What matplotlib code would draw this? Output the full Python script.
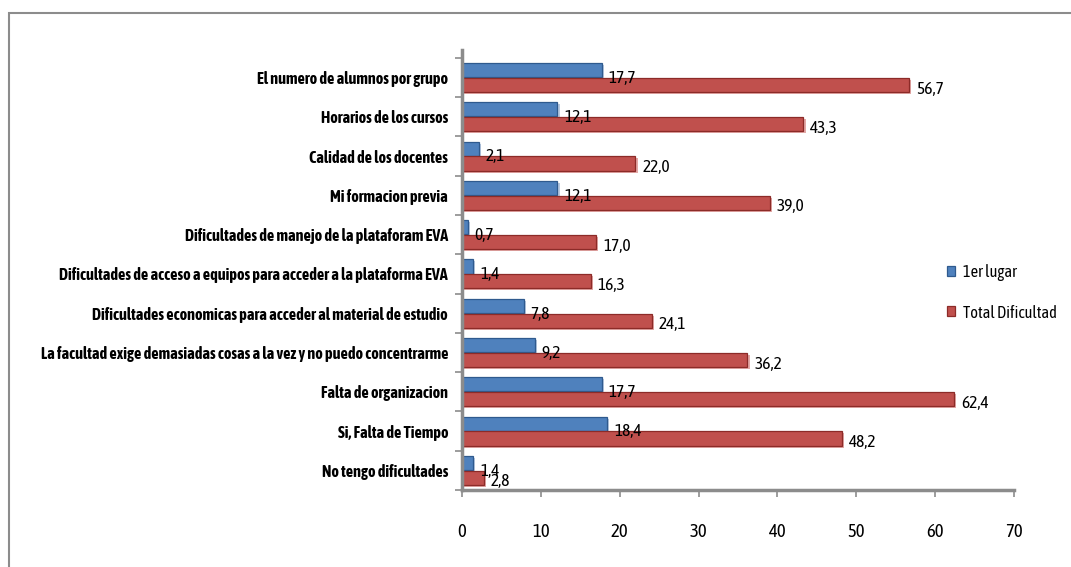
import matplotlib.pyplot as plt
import numpy as np
from matplotlib import font_manager
import matplotlib.patheffects as pe
from matplotlib.patches import Rectangle

# buscar una fuente estrecha si existe (el original usa Calibri)
cands = {}
for f in font_manager.fontManager.ttflist:
    if "Narrow" in f.name or "Condensed" in f.name:
        w = f.weight if isinstance(f.weight, int) else 700 if "bold" in str(f.weight) else 400
        cands[f.name] = max(cands.get(f.name, 0), w)
narrow = None
has_bold = False
for name, w in sorted(cands.items(), key=lambda kv: -kv[1]):
    narrow = name
    has_bold = w >= 600
    break
fam = [narrow, "Liberation Sans", "DejaVu Sans"] if narrow else ["Liberation Sans", "DejaVu Sans"]
plt.rcParams['font.family'] = fam

categorias = [
    "El numero de alumnos por grupo",
    "Horarios de los cursos",
    "Calidad de los docentes",
    "Mi formacion previa",
    "Dificultades de manejo de la plataforam EVA",
    "Dificultades de acceso a equipos para acceder a la plataforma EVA",
    "Dificultades economicas para acceder al material de estudio",
    "La facultad exige demasiadas cosas a la vez y no puedo concentrarme",
    "Falta de organizacion",
    "Si, Falta de Tiempo",
    "No tengo dificultades",
]
primer_lugar = [17.7, 12.1, 2.1, 12.1, 0.7, 1.4, 7.8, 9.2, 17.7, 18.4, 1.4]
total_dificultad = [56.7, 43.3, 22.0, 39.0, 17.0, 16.3, 24.1, 36.2, 62.4, 48.2, 2.8]
x_ticks = [0, 10, 20, 30, 40, 50, 60, 70]

azul = "#4F81BD"
rojo = "#C0504D"

fig = plt.figure(figsize=(10.71, 5.67), dpi=100)
ax = fig.add_axes([462 / 1071, 1 - 490 / 567, (1014 - 462) / 1071, (490 - 50) / 567])

# marco del grafico
fig.patches.append(Rectangle((9 / 1071, -0.05), 1.2, 1 - 13 / 567 + 0.05,
                             transform=fig.transFigure, fill=False,
                             edgecolor="#8c8c8c", linewidth=1.5))

n = len(categorias)
y = np.arange(n)[::-1]
h = 0.36
off = 0.19

# sombra ligera (efecto 3D)
ax.barh(y + off - 0.05, primer_lugar, height=h, left=0.3, color="#b9c9e0", zorder=1)
ax.barh(y - off - 0.05, total_dificultad, height=h, left=0.3, color="#e3a9a7", zorder=1)

b1 = ax.barh(y + off, primer_lugar, height=h, color=azul, edgecolor="#2f5a8e",
             linewidth=0.9, zorder=2, label="1er lugar")
b2 = ax.barh(y - off, total_dificultad, height=h, color=rojo, edgecolor="#8c2b28",
             linewidth=0.9, zorder=2, label="Total Dificultad")

for v, yy in zip(primer_lugar, y):
    ax.annotate(f"{v:.1f}".replace(".", ","), xy=(v, yy + off), xytext=(5, -6),
                textcoords="offset points", va="center", ha="left", fontsize=12.5, zorder=5)
for v, yy in zip(total_dificultad, y):
    ax.annotate(f"{v:.1f}".replace(".", ","), xy=(v, yy - off), xytext=(5, -3),
                textcoords="offset points", va="center", ha="left", fontsize=12.5, zorder=5)

ax.set_xlim(0, 70)
ax.set_ylim(-0.5, 10.7)
ax.set_xticks(x_ticks)
ax.set_xticklabels([str(t) for t in x_ticks], fontsize=13.5)
ax.tick_params(axis="x", colors="#8c8c8c", length=5, width=1.2, pad=19, labelcolor="black")

ax.set_yticks(y)
ylabels = ax.set_yticklabels(categorias, fontsize=10, fontweight="bold")
if not has_bold:
    for t in ylabels:
        t.set_path_effects([pe.withStroke(linewidth=0.7, foreground="black")])
ax.tick_params(axis="y", length=0, pad=10)
ax.set_yticks(np.arange(n + 1) - 0.5, minor=True)
ax.tick_params(axis="y", which="minor", length=5, width=1.2, colors="#8c8c8c")

for s in ["top", "right"]:
    ax.spines[s].set_visible(False)
for s in ["left", "bottom"]:
    ax.spines[s].set_color("#8c8c8c")
    ax.spines[s].set_linewidth(2.5)

leg = fig.legend(handles=[b1, b2], loc="center left", bbox_to_anchor=(947 / 1071, 1 - 293 / 567),
                 frameon=False, fontsize=13.5, handlelength=0.45, handleheight=0.45,
                 handletextpad=0.4, labelspacing=1.25, borderpad=0, borderaxespad=0)

# ajustar tamanos para que los textos ocupen lo mismo que en el original
fig.canvas.draw()
r = fig.canvas.get_renderer()
widest = max(t.get_window_extent(r).width for t in ylabels)
s = 10 * 404 / widest
for t in ylabels:
    t.set_fontsize(s)
lw = max(t.get_window_extent(r).width for t in leg.get_texts())
if lw > 94:
    for t in leg.get_texts():
        t.set_fontsize(13.5 * 94 / lw)

fig.savefig("out.png", dpi=100)
